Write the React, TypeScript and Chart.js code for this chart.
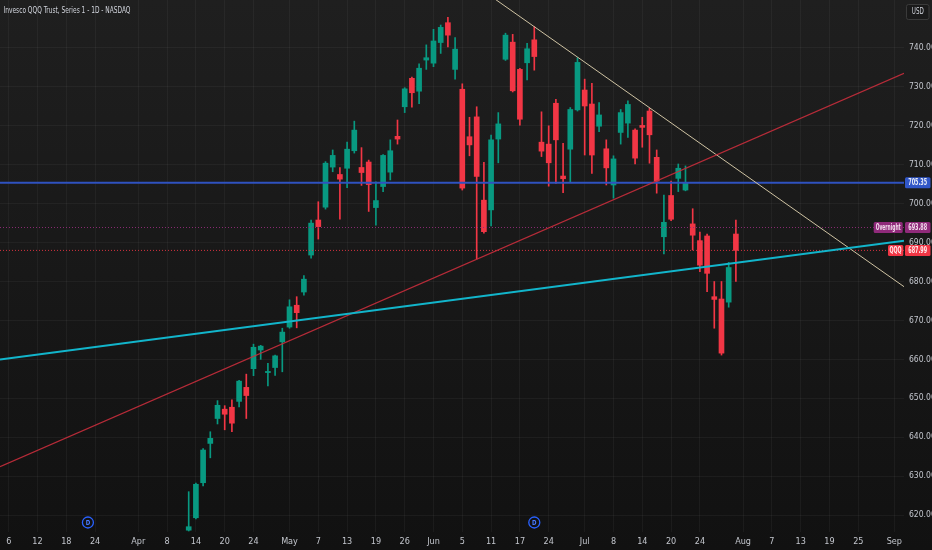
import React, { useEffect, useRef } from 'react';
import { Chart, registerables } from 'chart.js';

Chart.register(...registerables);

// ---- data ----
const opens = [616.1, 619.3, 628.3, 638.4, 644.8, 647.2, 647.7, 649.2, 652.8, 657.6,
  662.4, 656.6, 657.9, 664.5, 668.3, 673.9, 677.3, 686.8, 695.8, 699.1,
  709.4, 707.5, 709.1, 713.6, 709.3, 710.7, 699.0, 704.4, 708.1, 717.3,
  724.9, 732.2, 728.9, 736.9, 736.1, 741.4, 746.5, 734.5, 729.4, 717.2,
  722.3, 700.9, 698.4, 716.6, 737.1, 741.5, 734.5, 736.2, 742.1, 715.8,
  715.3, 725.8, 707.1, 714.0, 724.1, 729.2, 725.6, 719.9, 714.1, 704.8,
  718.3, 720.7, 718.9, 720.1, 723.8, 711.9, 691.5, 702.1, 706.5, 703.5,
  694.8, 690.5, 691.7, 676.1, 675.5, 674.7, 692.2];
const highs = [626.0, 628.2, 637.1, 641.4, 649.4, 648.1, 649.6, 654.6, 656.2, 663.9,
  663.6, 659.0, 661.1, 668.0, 675.3, 676.1, 681.5, 695.8, 700.5, 710.8,
  713.8, 709.3, 715.8, 721.2, 714.4, 711.2, 705.6, 712.6, 716.4, 721.5,
  729.8, 732.5, 735.9, 740.8, 744.8, 745.9, 747.9, 742.7, 730.8, 722.2,
  724.9, 710.6, 717.6, 723.4, 743.8, 743.5, 734.8, 741.2, 745.5, 723.6,
  720.0, 726.8, 715.5, 724.7, 737.5, 732.0, 730.9, 726.0, 716.4, 712.3,
  724.2, 726.4, 719.2, 722.2, 724.5, 713.8, 702.2, 705.8, 710.2, 709.7,
  698.7, 692.7, 692.2, 680.0, 680.0, 684.9, 695.8];
const lows = [615.9, 619.0, 627.5, 634.7, 643.4, 641.9, 641.4, 647.8, 644.8, 655.8,
  660.0, 653.2, 655.9, 656.8, 668.0, 668.1, 676.5, 686.0, 690.9, 698.6,
  708.2, 696.0, 704.1, 713.0, 704.7, 698.0, 694.5, 703.1, 706.1, 715.3,
  723.4, 724.8, 725.7, 734.5, 735.2, 738.6, 740.3, 732.0, 703.5, 712.3,
  685.8, 692.4, 694.3, 710.5, 736.8, 728.7, 720.2, 731.8, 734.3, 712.1,
  704.5, 705.2, 702.8, 705.4, 723.8, 712.5, 707.8, 718.5, 704.8, 701.4,
  715.3, 717.0, 710.2, 714.5, 710.4, 702.7, 687.1, 695.6, 703.1, 703.3,
  688.1, 682.5, 677.4, 668.0, 661.1, 673.4, 680.0];
const closes = [617.0, 627.9, 636.7, 639.7, 648.2, 645.9, 643.6, 654.4, 650.7, 663.1,
  663.4, 656.9, 660.9, 667.0, 673.5, 672.0, 680.6, 695.0, 694.1, 710.4,
  712.4, 706.3, 714.0, 718.9, 708.0, 704.9, 700.8, 712.4, 713.6, 716.6,
  729.5, 728.5, 734.8, 737.5, 741.8, 745.3, 743.3, 739.7, 704.0, 715.1,
  707.0, 692.8, 716.4, 720.5, 743.3, 729.0, 721.7, 739.8, 737.8, 713.5,
  710.5, 716.4, 706.4, 724.2, 736.3, 725.1, 712.5, 722.8, 709.2, 711.5,
  723.4, 725.5, 711.7, 719.6, 717.7, 705.8, 695.2, 696.0, 709.1, 705.4,
  691.9, 684.2, 682.1, 675.4, 661.6, 683.6, 687.99];

const tickIndex = [-25, -21, -17, -13, -7, -3, 1, 5, 9, 14, 18, 22, 26, 30, 34, 38, 42, 46, 50,
  55, 59, 63, 67, 71, 77, 81, 85, 89, 93, 98];
const tickLabels = ['6', '12', '18', '24', 'Apr', '8', '14', '20', '24', 'May', '7', '13', '19', '26',
  'Jun', '5', '11', '17', '24', 'Jul', '8', '14', '20', '24', 'Aug', '7', '13', '19', '25', 'Sep'];
const priceTicks = [620, 630, 640, 650, 660, 670, 680, 690, 700, 710, 720, 730, 740];

const cyanTrend = [[-26.21, 659.97], [99.35, 690.49]];
const redTrend = [[-26.21, 632.45], [99.35, 733.5]];
const creamTrend = [[36.29, 760.7], [99.35, 678.67]];
const blueLevel = 705.35;
const overnightPrice = 693.88;
const lastPrice = 687.99;
const dividendIdx = [-14, 48];

const X_MIN = -26.21;
const X_MAX = 99.35;
const Y_MIN = 615.64;
const Y_MAX = 752.33;

const GREEN = '#089981';
const RED = '#f23645';
const FONT = "'Liberation Sans Narrow', 'DejaVu Sans Condensed', 'Roboto Condensed', 'Liberation Sans', sans-serif";

function fitText(ctx: CanvasRenderingContext2D, text: string, x: number, y: number, w: number,
  font: string, color: string, align: 'left' | 'center') {
  ctx.save();
  ctx.font = font;
  const m = ctx.measureText(text).width || 1;
  const s = w / m;
  ctx.translate(x, y);
  ctx.scale(s, 1);
  ctx.fillStyle = color;
  ctx.textBaseline = 'middle';
  ctx.textAlign = align;
  ctx.fillText(text, 0, 0);
  ctx.restore();
}

export default function App() {
  const ref = useRef<HTMLCanvasElement>(null);

  useEffect(() => {
    const canvas = ref.current;
    if (!canvas) return;
    const colors = closes.map((c, i) => (c >= opens[i] ? GREEN : RED));
    const wickData = opens.map((_, i) => ({ x: i, y: [lows[i], highs[i]] }));
    const bodyData = opens.map((o, i) => ({ x: i, y: [o, closes[i]] }));
    const seg = (pts: number[][]) => pts.map(([x, y]) => ({ x, y }));
    const hline = (v: number) => [{ x: X_MIN, y: v }, { x: X_MAX, y: v }];

    const overlay = {
      id: 'overlay',
      beforeDraw(chart: any) {
        const { ctx, width, height } = chart;
        ctx.save();
        const g = ctx.createLinearGradient(0, 0, 0, height);
        g.addColorStop(0, '#1f1f1f');
        g.addColorStop(1, '#111111');
        ctx.fillStyle = g;
        ctx.fillRect(0, 0, width, height);
        ctx.restore();
      },
      afterDraw(chart: any) {
        const { ctx, chartArea } = chart;
        const xs = chart.scales.x;
        const ys = chart.scales.y;
        // title
        fitText(ctx, 'Invesco QQQ Trust, Series 1 - 1D - NASDAQ', 3.5, 11, 127,
          `9px ${FONT}`, '#d1d4dc', 'left');
        // dividend markers
        dividendIdx.forEach((v) => {
          const x = xs.getPixelForValue(v);
          const y = chartArea.bottom - 9.5;
          ctx.save();
          ctx.beginPath();
          ctx.arc(x, y, 5.5, 0, Math.PI * 2);
          ctx.strokeStyle = '#2962ff';
          ctx.lineWidth = 1.3;
          ctx.stroke();
          ctx.restore();
          fitText(ctx, 'D', x, y + 0.5, 4.5, `bold 7px ${FONT}`, '#4a7bff', 'center');
        });
        // USD box
        ctx.save();
        ctx.fillStyle = '#1a1a1a';
        ctx.strokeStyle = '#3a3a3a';
        ctx.lineWidth = 1;
        ctx.beginPath();
        ctx.roundRect(906.5, 4.5, 22.5, 15, 2);
        ctx.fill();
        ctx.stroke();
        ctx.restore();
        fitText(ctx, 'USD', 917.8, 12, 12, `8px ${FONT}`, '#d1d4dc', 'center');
        // price tags
        const tag = (v: number, bg: string, fg: string) => {
          const y = ys.getPixelForValue(v);
          ctx.save();
          ctx.fillStyle = bg;
          ctx.beginPath();
          ctx.roundRect(905, y - 5.5, 25.5, 11, 1.5);
          ctx.fill();
          ctx.restore();
          fitText(ctx, v.toFixed(2), 917.7, y + 0.5, 19, `bold 8px ${FONT}`, fg, 'center');
          return y;
        };
        tag(blueLevel, '#3157c8', '#e8ecf8');
        const yo = tag(overnightPrice, '#8f2a7a', '#f2dcec');
        ctx.save();
        ctx.fillStyle = '#8f2a7a';
        ctx.beginPath();
        ctx.roundRect(873.7, yo - 5.5, 29, 11, 1.5);
        ctx.fill();
        ctx.restore();
        fitText(ctx, 'Overnight', 888.2, yo + 0.5, 25, `bold 8px ${FONT}`, '#f2dcec', 'center');
        const yl = tag(lastPrice, RED, '#ffe9eb');
        ctx.save();
        ctx.fillStyle = RED;
        ctx.beginPath();
        ctx.roundRect(888, yl - 5.5, 15.3, 11, 1.5);
        ctx.fill();
        ctx.restore();
        fitText(ctx, 'QQQ', 895.6, yl + 0.5, 12, `bold 8px ${FONT}`, '#ffe9eb', 'center');
      },
    };

    const lineBase = { type: 'line' as const, pointRadius: 0, fill: false, tension: 0 };

    const chart = new Chart(canvas, {
      type: 'bar',
      data: {
        datasets: [
          { ...lineBase, data: seg(cyanTrend), borderColor: '#12b5cb', borderWidth: 2, order: 0 },
          { ...lineBase, data: seg(redTrend), borderColor: 'rgba(200,45,60,0.9)', borderWidth: 1.2, order: 0 },
          { ...lineBase, data: seg(creamTrend), borderColor: '#cfc3a3', borderWidth: 1, order: 0 },
          { ...lineBase, data: hline(blueLevel), borderColor: '#2f52c0', borderWidth: 2, order: 1 },
          { ...lineBase, data: hline(overnightPrice), borderColor: 'rgba(150,45,125,0.9)', borderWidth: 1, borderDash: [1, 2], order: 3 },
          { ...lineBase, data: hline(lastPrice), borderColor: 'rgba(242,54,69,0.85)', borderWidth: 1, borderDash: [1, 2], order: 3 },
          { type: 'bar', data: bodyData as any, backgroundColor: colors, barThickness: 5, grouped: false, minBarLength: 1, borderWidth: 0, order: 5 },
          { type: 'bar', data: wickData as any, backgroundColor: colors, barThickness: 1, grouped: false, borderWidth: 0, order: 6 },
        ] as any,
      },
      options: {
        animation: false,
        responsive: false,
        maintainAspectRatio: false,
        events: [],
        layout: { padding: 0 },
        plugins: { legend: { display: false }, tooltip: { enabled: false } },
        scales: {
          x: {
            type: 'linear',
            min: X_MIN,
            max: X_MAX,
            offset: false,
            grid: { offset: false, color: 'rgba(255,255,255,0.045)', drawTicks: false },
            border: { display: false },
            afterBuildTicks: (s: any) => { s.ticks = tickIndex.map((v) => ({ value: v })); },
            afterFit: (s: any) => { s.height = 18; s.paddingLeft = 0; s.paddingRight = 0; },
            ticks: {
              autoSkip: false,
              maxRotation: 0,
              minRotation: 0,
              padding: 4,
              color: '#c3c6cd',
              font: { family: FONT, size: 9 },
              callback: (v: any) => tickLabels[tickIndex.indexOf(Number(v))] ?? '',
            },
          },
          y: {
            type: 'linear',
            position: 'right',
            min: Y_MIN,
            max: Y_MAX,
            grid: { color: 'rgba(255,255,255,0.045)', drawTicks: false },
            border: { display: false },
            afterBuildTicks: (s: any) => { s.ticks = priceTicks.map((v) => ({ value: v })); },
            afterFit: (s: any) => { s.width = 28; s.paddingTop = 0; s.paddingBottom = 0; },
            ticks: {
              padding: 5,
              color: '#c3c6cd',
              font: { family: FONT, size: 8.5 },
              callback: (v: any) => Number(v).toFixed(2),
            },
          },
        },
      } as any,
      plugins: [overlay],
    });
    return () => chart.destroy();
  }, []);

  return (
    <div style={{ position: 'fixed', left: 0, top: 0, width: 932, height: 550, background: '#181818' }}>
      <canvas ref={ref} width={932} height={550} style={{ display: 'block', width: 932, height: 550 }} />
    </div>
  );
}
